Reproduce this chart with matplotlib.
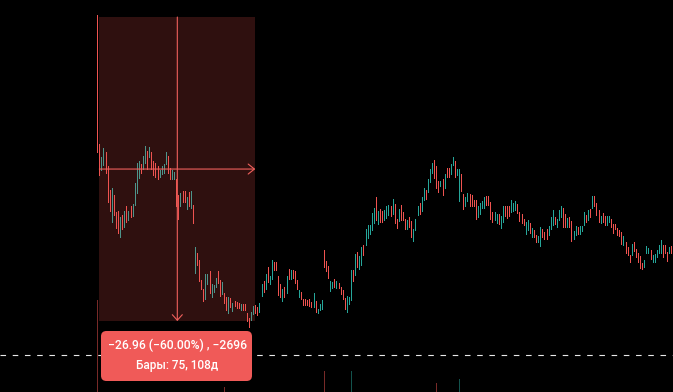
import numpy as np
import matplotlib
matplotlib.use('Agg')
import matplotlib.pyplot as plt
from matplotlib.patches import Rectangle, FancyBboxPatch

# bar highs / lows (price), one per bar, left to right
highs = [45.08,
    33.63, 32.53, 33.28, 32.98, 31.73, 29.63, 29.73, 29.18, 27.68, 27.73,
    27.23, 27.38, 27.73, 28.13, 27.73, 28.13, 28.38, 30.18, 32.03, 32.18,
    31.93, 32.58, 33.53, 33.08, 33.43, 32.93, 32.18, 32.03, 31.73, 31.38,
    31.68, 31.93, 32.93, 32.58, 31.58, 31.38, 31.23, 30.53, 29.18, 29.33,
    29.53, 29.53, 28.98, 29.43, 29.53, 28.28, 24.53, 24.03, 23.38, 21.63,
    20.83, 22.13, 22.13, 22.43, 21.23, 21.18, 21.78, 22.43, 21.63, 21.43,
    20.48, 20.08, 20.08, 20.03, 19.58, 19.73, 19.63, 19.58, 19.48, 19.48,
    19.48, 18.68, 18.23, 18.78, 19.28, 19.38, 19.23, 19.58, 21.23, 21.53,
    22.13, 22.78, 21.98, 23.38, 23.23, 23.23, 21.98, 21.23, 20.83, 20.98,
    21.98, 22.58, 22.48, 22.48, 22.43, 21.63, 20.73, 20.53, 19.93, 19.93,
    19.83, 19.93, 19.63, 20.48, 19.73, 19.03, 19.48, 19.83, 24.28, 23.28,
    22.88, 21.53, 21.43, 21.68, 21.53, 21.33, 20.98, 20.73, 20.03, 20.18,
    20.08, 22.48, 22.48, 23.93, 24.08, 23.73, 24.53, 24.73, 26.13, 26.48,
    26.48, 27.58, 28.03, 28.93, 27.73, 27.93, 27.73, 27.83, 28.18, 28.28,
    28.18, 28.83, 28.38, 27.03, 27.93, 28.28, 27.68, 27.03, 26.93, 27.23,
    26.88, 26.13, 27.03, 28.18, 28.48, 28.98, 29.78, 29.63, 30.58, 31.48,
    32.03, 32.28, 31.73, 30.43, 30.43, 30.53, 30.98, 31.58, 31.58, 31.93,
    32.53, 32.13, 31.48, 31.48, 31.03, 29.28, 28.98, 29.33, 29.28, 29.18,
    28.73, 28.73, 28.18, 28.48, 28.63, 28.98, 29.08, 29.08, 28.53, 27.68,
    27.68, 27.48, 27.48, 27.28, 28.13, 28.13, 28.18, 28.18, 28.73, 28.48,
    28.63, 28.38, 27.68, 27.48, 27.03, 26.78, 26.93, 26.68, 26.23, 26.08,
    25.63, 25.53, 26.33, 26.13, 25.88, 26.13, 26.43, 27.23, 27.83, 27.23,
    27.03, 27.83, 28.13, 28.03, 27.48, 27.13, 27.23, 26.88, 25.98, 26.43,
    26.33, 26.43, 26.43, 27.68, 27.38, 27.83, 27.93, 29.08, 29.08, 28.48,
    27.83, 27.28, 27.58, 27.28, 27.28, 27.28, 27.03, 26.58, 26.58, 26.23,
    26.08, 25.88, 25.53, 24.98, 24.53, 23.83, 24.83, 24.98, 24.38, 24.03,
    23.73, 23.13, 23.38, 24.63, 24.48, 24.28, 23.83, 23.93, 24.28, 24.73,
    25.18, 24.73, 24.73, 24.08, 24.53, 24.63]
lows = [32.93,
    30.88, 31.33, 31.78, 31.13, 28.53, 27.73, 26.78, 27.38, 26.23, 25.78,
    25.43, 26.13, 26.33, 26.78, 26.93, 27.23, 27.28, 28.28, 29.33, 30.68,
    31.13, 31.48, 32.03, 31.48, 32.48, 31.48, 30.88, 30.78, 30.58, 30.78,
    30.98, 31.13, 31.93, 31.13, 30.58, 30.58, 30.58, 28.13, 27.03, 28.13,
    28.53, 28.53, 27.93, 28.13, 28.03, 26.68, 22.23, 22.93, 21.53, 20.83,
    19.73, 19.93, 21.23, 20.43, 20.08, 20.53, 20.98, 21.33, 20.18, 20.38,
    19.58, 18.93, 18.68, 19.23, 18.83, 19.28, 19.13, 19.13, 18.93, 18.93,
    18.93, 17.98, 17.43, 18.03, 18.58, 18.68, 18.48, 18.78, 20.18, 20.53,
    20.83, 21.43, 21.23, 21.68, 22.48, 22.48, 20.28, 20.08, 19.73, 20.08,
    20.48, 21.68, 21.68, 21.78, 21.33, 20.83, 20.08, 19.93, 19.38, 19.38,
    19.38, 19.28, 19.23, 19.23, 18.78, 18.68, 18.93, 19.03, 22.78, 22.43,
    21.78, 20.63, 20.88, 20.98, 20.88, 20.88, 20.38, 19.93, 19.03, 18.78,
    19.48, 19.83, 21.53, 22.08, 22.78, 22.58, 22.93, 23.83, 24.73, 25.33,
    25.73, 26.08, 26.68, 26.93, 26.58, 26.78, 26.78, 26.93, 27.13, 27.38,
    27.28, 27.48, 26.68, 26.23, 26.88, 26.93, 26.93, 26.13, 26.13, 26.33,
    25.43, 25.08, 26.08, 27.38, 27.48, 27.73, 28.73, 28.83, 29.43, 30.33,
    31.13, 30.68, 29.78, 29.43, 29.98, 29.18, 29.73, 30.78, 30.78, 31.03,
    31.83, 30.78, 30.88, 28.63, 29.53, 27.93, 28.13, 28.63, 28.18, 28.13,
    28.13, 27.03, 27.23, 27.48, 28.03, 28.03, 28.28, 28.28, 27.03, 26.78,
    26.93, 26.68, 26.58, 26.23, 26.78, 27.28, 27.13, 27.28, 27.68, 27.73,
    27.83, 27.58, 26.88, 26.68, 26.48, 25.73, 26.08, 25.78, 25.43, 25.43,
    24.98, 24.98, 24.63, 25.43, 25.28, 25.28, 25.63, 26.13, 26.48, 26.58,
    26.33, 26.93, 27.23, 26.33, 26.33, 26.33, 26.33, 25.08, 25.28, 25.63,
    25.73, 25.73, 25.98, 26.48, 26.78, 26.93, 27.23, 28.03, 28.13, 27.38,
    26.78, 26.68, 26.78, 26.48, 26.48, 26.78, 26.33, 25.78, 26.13, 25.63,
    25.53, 24.83, 24.73, 24.03, 23.83, 23.23, 23.83, 24.18, 23.68, 23.23,
    22.68, 22.58, 22.78, 24.03, 24.03, 23.48, 23.23, 23.23, 23.68, 24.03,
    24.03, 23.68, 24.03, 23.28, 24.03, 24.03]
# 1 = up bar (teal), 0 = down bar (red)
up = [0,
    0, 1, 1, 0, 0, 0, 1, 0, 0, 0,  1, 0, 1, 0, 1, 0, 1, 1, 1, 1,
    0, 1, 1, 0, 1, 0, 0, 0, 0, 1,  1, 1, 1, 0, 0, 1, 1, 0, 0, 1,
    0, 0, 1, 0, 1, 0, 1, 0, 0, 0,  0, 1, 1, 0, 1, 1, 1, 0, 0, 1,
    0, 0, 1, 0, 1, 0, 0, 0, 1, 0,  0, 0, 0, 1, 1, 0, 0, 1, 1, 0,
    1, 0, 1, 1, 0, 0, 0, 0, 1, 0,  1, 0, 1, 0, 0, 0, 1, 0, 0, 0,
    0, 0, 0, 1, 0, 1, 1, 1, 0, 0,  0, 1, 1, 0, 1, 0, 0, 0, 0, 1,
    1, 1, 0, 1, 0, 1, 1, 0, 1, 1,  1, 1, 1, 0, 1, 0, 0, 1, 1, 1,
    0, 1, 0, 0, 1, 0, 0, 0, 1, 0,  0, 1, 1, 1, 0, 1, 1, 0, 1, 1,
    1, 0, 0, 0, 1, 0, 1, 0, 0, 1,  1, 0, 1, 1, 0, 0, 1, 1, 0, 0,
    0, 0, 1, 1, 1, 1, 0, 0, 0, 0,  1, 1, 0, 1, 1, 0, 0, 0, 1, 1,
    1, 0, 0, 0, 0, 1, 1, 0, 1, 0,  0, 1, 1, 0, 0, 0, 1, 1, 1, 0,
    1, 1, 1, 0, 0, 1, 0, 0, 1, 1,  0, 1, 1, 1, 0, 1, 0, 1, 0, 0,
    0, 1, 0, 0, 1, 1, 0, 0, 0, 0,  0, 0, 1, 0, 0, 0, 1, 0, 0, 0,
    0, 0, 1, 1, 1, 0, 1, 1, 1, 1,  1, 0, 0, 0, 1, 0]

# the few volume bars that reach into view (bar number, volume)
vol_bar = [0, 61, 109, 122, 163, 174]
vol_val = [920, 50, 210, 210, 90, 130]
vol_up = [0, 0, 0, 1, 0, 1]

# measure tool: bars 1..76, price 44.93 -> 17.97
m_start, m_end = 1, 76
p_start, p_end = 44.93, 17.97
ref_price = 14.96
label1 = '\u221226.96 (\u221260.00%) , \u22122696'
label2 = 'Бары: 75, 108д'

UP = '#26a69a'
DOWN = '#ef5350'

fig = plt.figure(figsize=(6.73, 3.92), dpi=100, facecolor='black')
ax = fig.add_axes([0, 0, 1, 1])
ax.set_facecolor('black')
ax.set_xlim(-46.74, 276.8)
ax.set_ylim(11.68, 46.44)
ax.axis('off')

x = np.arange(len(highs))
cols = [UP if u else DOWN for u in up]
ax.vlines(x, lows, highs, colors=cols, linewidth=0.72, antialiased=False, zorder=2)

# volume pane
vax = ax.twinx()
vax.set_ylim(0, 3920)
vax.axis('off')
vcols = ['#13534d' if u else '#782a28' for u in vol_up]
vax.vlines(vol_bar, 0, vol_val, colors=vcols, linewidth=0.72, antialiased=False, zorder=1)

# last price line
ax.axhline(ref_price, color='#e8e8e8', lw=0.8, ls=(0, (5, 6)), zorder=1.5)

# measure box
ax.add_patch(Rectangle((m_start, p_end), m_end - m_start, p_start - p_end,
                       facecolor=DOWN, alpha=0.2, edgecolor='none', zorder=3))
mid_x = (m_start + m_end) / 2
mid_p = (p_start + p_end) / 2
ax.annotate('', xy=(m_end, mid_p), xytext=(m_start, mid_p),
            arrowprops=dict(arrowstyle='->,head_length=0.45,head_width=0.36',
                            color='#f0605c', lw=0.8, shrinkA=0, shrinkB=0), zorder=4)
ax.annotate('', xy=(mid_x, p_end), xytext=(mid_x, p_start),
            arrowprops=dict(arrowstyle='->,head_length=0.4,head_width=0.36',
                            color='#f0605c', lw=0.8, shrinkA=0, shrinkB=0), zorder=4)

# info label
box = FancyBboxPatch((101 / 673, 11 / 392), 151 / 673, 50 / 392,
                     boxstyle='round,pad=0,rounding_size=0.008',
                     transform=ax.transAxes, facecolor='#f05a58',
                     edgecolor='none', zorder=5, mutation_aspect=673 / 392)
ax.add_patch(box)
ax.text(177 / 673, 1 - 345.5 / 392, label1, transform=ax.transAxes,
        ha='center', va='center', color='white', fontsize=8.7, fontweight='medium',
        family=['Roboto', 'DejaVu Sans'], zorder=6)
ax.text(177 / 673, 1 - 365 / 392, label2, transform=ax.transAxes,
        ha='center', va='center', color='white', fontsize=8.5, fontweight='medium',
        family=['Roboto', 'DejaVu Sans'], zorder=6)

fig.savefig('out.png', dpi=100, facecolor='black')
